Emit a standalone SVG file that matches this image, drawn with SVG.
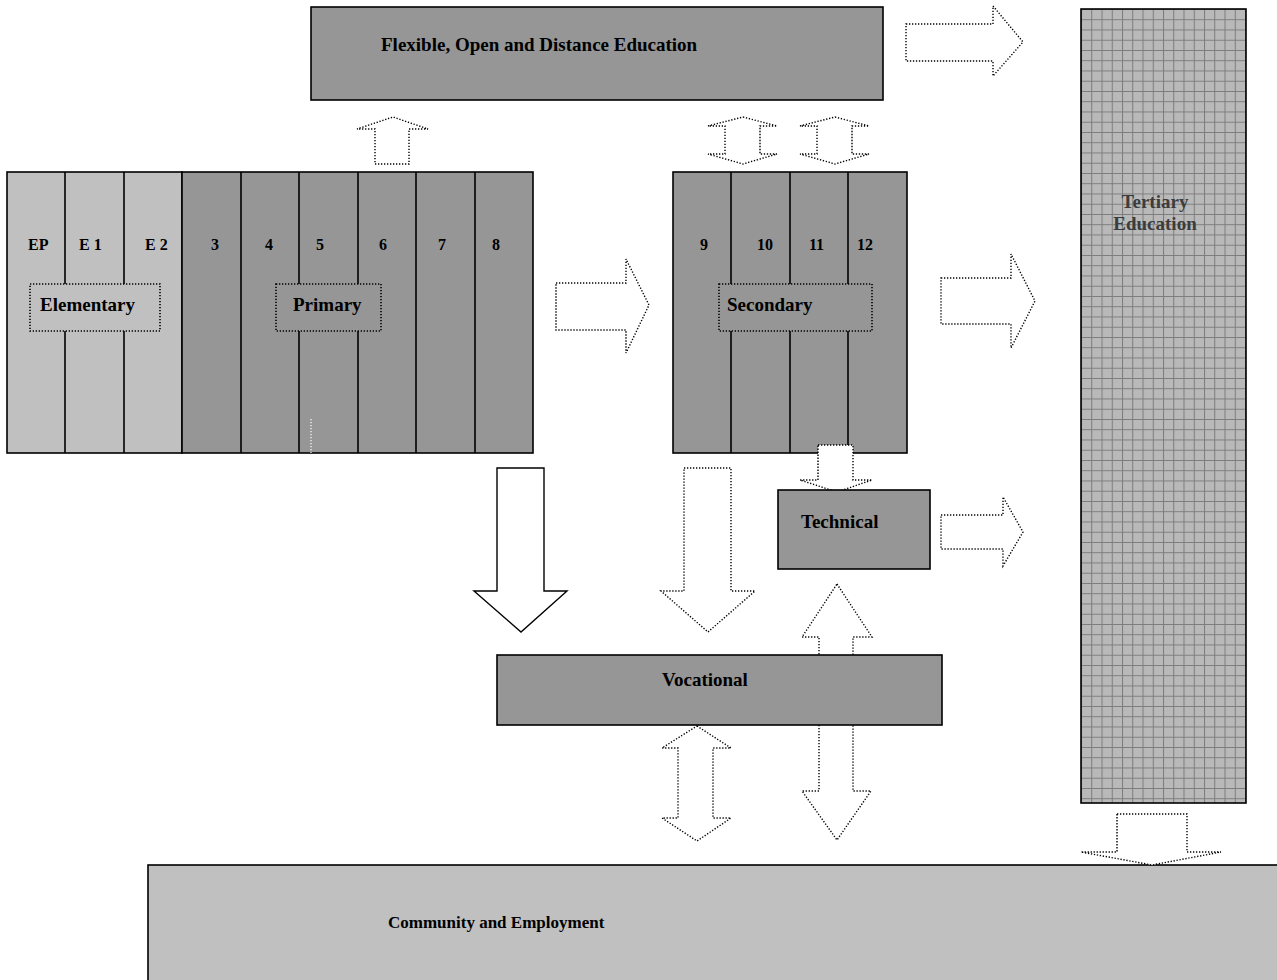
<svg xmlns="http://www.w3.org/2000/svg" width="1277" height="980" viewBox="0 0 1277 980">
<defs>
<pattern id="grid" patternUnits="userSpaceOnUse" x="1081" y="9" width="10.25" height="10.25">
<rect width="10.25" height="10.25" fill="#b9b9b9"/>
<path d="M0 0.5H10.25M0.5 0V10.25" stroke="#7c7c7c" stroke-width="1" fill="none"/>
</pattern>
<style>
.box{stroke:#000;stroke-width:1.6}
.lt{fill:#c0c0c0}
.dk{fill:#969696}
.div{stroke:#000;stroke-width:1.6}
.lbl{fill:none;stroke:#000;stroke-width:1.6;stroke-dasharray:1.3 1.7}
.dot{fill:#fff;stroke:#000;stroke-width:1.4;stroke-dasharray:1.3 1.7}
.solid{fill:#fff;stroke:#000;stroke-width:1.4}
text{font-family:"Liberation Serif","Times New Roman",serif;font-weight:bold;fill:#000}
.big{font-size:19px}
.num{font-size:16px}
.mid{font-size:17px}
</style>
</defs>
<rect width="1277" height="980" fill="#fff"/>

<g id="community">
<rect x="148" y="865" width="1140" height="130" class="box lt"/>
<text x="388" y="928" class="mid">Community and Employment</text>
</g>

<g id="flexible">
<rect x="311" y="7" width="572" height="93" class="box dk"/>
<text x="381" y="51" class="big">Flexible, Open and Distance Education</text>
</g>

<g id="tertiary">
<rect x="1081" y="9" width="165" height="794" fill="url(#grid)" class="box"/>
<text x="1155" y="208" class="big" text-anchor="middle" style="fill:#3c3c3c">Tertiary</text>
<text x="1155" y="230" class="big" text-anchor="middle" style="fill:#3c3c3c">Education</text>
</g>

<g id="connectors">
<polygon class="dot" points="906,24 993,24 993,6 1023,42 993,76 993,61 906,61"/>
<polygon class="dot" points="556,283 626,283 626,259 649,305 626,353 626,330 556,330"/>
<polygon class="dot" points="941,278 1011,278 1011,254 1035,301 1011,348 1011,324 941,324"/>
<polygon class="dot" points="941,515 1003,515 1003,497 1023,532 1003,566 1003,549 941,549"/>
<polygon class="dot" points="375,164 409,164 409,129 428,129 393,117 357,129 375,129"/>
<polygon class="dot" points="743,117 777,126 760,126 760,154 777,154 743,164 708,154 725,154 725,126 708,126"/>
<polygon class="dot" points="835,117 869,126 852,126 852,154 869,154 835,164 800,154 817,154 817,126 800,126"/>
<polygon class="dot" points="684,468 731,468 731,591 755,591 708,632 661,591 684,591"/>
<polygon class="dot" points="837,584 872,637 853,637 853,791 871,791 837,840 802,791 819,791 819,637 802,637"/>
<polygon class="dot" points="697,726 731,748 713,748 713,818 731,818 697,841 662,818 678,818 678,748 662,748"/>
<polygon class="solid" points="497,468 544,468 544,591 567,591 521,632 474,591 497,591"/>
<polygon class="dot" points="1117,814 1187,814 1187,852 1221,852 1152,865 1081,852 1117,852"/>
</g>

<g id="grades-elementary-primary">
<rect x="7" y="172" width="175" height="281" class="box lt"/>
<rect x="182" y="172" width="351" height="281" class="box dk"/>
<line x1="65" y1="172" x2="65" y2="453" class="div"/>
<line x1="124" y1="172" x2="124" y2="453" class="div"/>
<line x1="241" y1="172" x2="241" y2="453" class="div"/>
<line x1="299" y1="172" x2="299" y2="453" class="div"/>
<line x1="358" y1="172" x2="358" y2="453" class="div"/>
<line x1="416" y1="172" x2="416" y2="453" class="div"/>
<line x1="475" y1="172" x2="475" y2="453" class="div"/>
<line x1="311" y1="419" x2="311" y2="453" stroke="#fff" stroke-width="1.2" stroke-dasharray="1.3 1.7"/>
<text x="28" y="250" class="num">EP</text>
<text x="79" y="250" class="num">E 1</text>
<text x="145" y="250" class="num">E 2</text>
<text x="211" y="250" class="num">3</text>
<text x="265" y="250" class="num">4</text>
<text x="316" y="250" class="num">5</text>
<text x="379" y="250" class="num">6</text>
<text x="438" y="250" class="num">7</text>
<text x="492" y="250" class="num">8</text>
</g>

<g id="elementary-label">
<rect x="30" y="284" width="130" height="47" class="lt"/>
<rect x="30" y="284" width="130" height="47" class="lbl"/>
<text x="40" y="311" class="big">Elementary</text>
</g>

<g id="primary-label">
<rect x="276" y="284" width="105" height="47" class="dk"/>
<rect x="276" y="284" width="105" height="47" class="lbl"/>
<text x="293" y="311" class="big">Primary</text>
</g>

<g id="secondary">
<rect x="673" y="172" width="234" height="281" class="box dk"/>
<line x1="731" y1="172" x2="731" y2="453" class="div"/>
<line x1="790" y1="172" x2="790" y2="453" class="div"/>
<line x1="848" y1="172" x2="848" y2="453" class="div"/>
<text x="700" y="250" class="num">9</text>
<text x="757" y="250" class="num">10</text>
<text x="809" y="250" class="num">11</text>
<text x="857" y="250" class="num">12</text>
</g>

<g id="secondary-label">
<rect x="719" y="284" width="153" height="47" class="dk"/>
<rect x="719" y="284" width="153" height="47" class="lbl"/>
<text x="727" y="311" class="big">Secondary</text>
</g>

<g id="sec-to-tech">
<polygon class="dot" points="818,445 853,445 853,480 872,480 837,492 800,480 818,480"/>
</g>

<g id="technical">
<rect x="778" y="490" width="152" height="79" class="box dk"/>
<text x="801" y="528" class="big">Technical</text>
</g>

<g id="vocational">
<rect x="497" y="655" width="445" height="70" class="box dk"/>
<text x="662" y="686" class="big">Vocational</text>
</g>
</svg>
